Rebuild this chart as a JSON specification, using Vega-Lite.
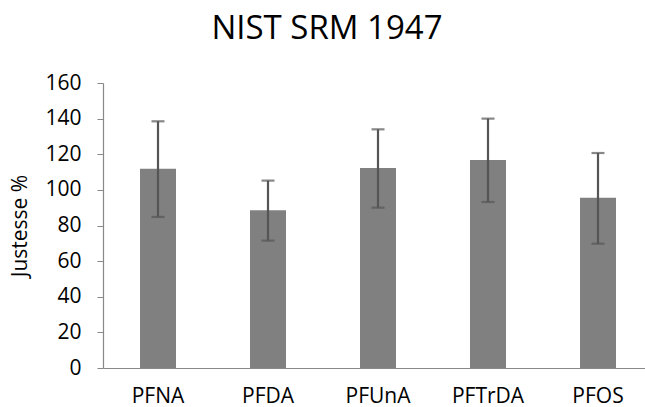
{
  "$schema": "https://vega.github.io/schema/vega-lite/v6.json",
  "autosize": "none",
  "width": 542,
  "height": 285,
  "padding": {"left": 103, "top": 83, "right": 0, "bottom": 39},
  "background": "white",
  "config": {
    "view": {"stroke": null},
    "font": "Open Sans",
    "axisY": {
      "titleFontSize": 21,
      "titleFontWeight": "normal",
      "titleColor": "#000000",
      "titlePadding": 14,
      "labelOverlap": false,
      "labelFontSize": 21,
      "labelColor": "#000000",
      "labelPadding": 16,
      "tickSize": 6,
      "tickColor": "#888888",
      "domainColor": "#888888",
      "domainWidth": 1.2,
      "grid": false
    }
  },
  "title": {
    "text": "NIST SRM 1947",
    "fontSize": 33,
    "fontWeight": "normal",
    "font": "Open Sans",
    "color": "#000000",
    "anchor": "middle",
    "dx": -47,
    "offset": 26
  },
  "data": {
    "values": [
      {"compound": "PFNA", "value": 111.9, "lo": 84.8, "hi": 138.5},
      {"compound": "PFDA", "value": 88.5, "lo": 71.5, "hi": 105.2},
      {"compound": "PFUnA", "value": 112.3, "lo": 90.0, "hi": 134.0},
      {"compound": "PFTrDA", "value": 116.8, "lo": 93.2, "hi": 140.0},
      {"compound": "PFOS", "value": 95.6, "lo": 69.8, "hi": 120.7}
    ]
  },
  "encoding": {
    "x": {
      "field": "compound",
      "type": "nominal",
      "sort": null,
      "scale": {"range": [0, 550], "paddingInner": 0.67, "paddingOuter": 0.335},
      "axis": {
        "title": null,
        "labelAngle": 0,
        "labelFontSize": 21,
        "labelColor": "#000000",
        "labelPadding": 17,
        "labelOverlap": false,
        "ticks": false,
        "domainColor": "#888888",
        "domainWidth": 1.2
      }
    }
  },
  "layer": [
    {
      "mark": {"type": "bar", "color": "#808080", "width": 36},
      "encoding": {
        "y": {
          "field": "value",
          "type": "quantitative",
          "scale": {"domain": [0, 160]},
          "axis": {"title": "Justesse %", "labelFontSize": 21, "titleFontSize": 21, "values": [0, 20, 40, 60, 80, 100, 120, 140, 160]}
        }
      }
    },
    {
      "mark": {"type": "rule", "color": "#555555", "strokeWidth": 2.2},
      "encoding": {
        "y": {"field": "lo", "type": "quantitative", "axis": {"title": "Justesse %", "labelFontSize": 21, "titleFontSize": 21, "values": [0, 20, 40, 60, 80, 100, 120, 140, 160]}},
        "y2": {"field": "hi"}
      }
    },
    {
      "mark": {"type": "tick", "color": "#555555", "thickness": 2.2, "size": 13, "orient": "horizontal"},
      "encoding": {"y": {"field": "lo", "type": "quantitative", "axis": {"title": "Justesse %", "labelFontSize": 21, "titleFontSize": 21, "values": [0, 20, 40, 60, 80, 100, 120, 140, 160]}}}
    },
    {
      "mark": {"type": "tick", "color": "#555555", "thickness": 2.2, "size": 13, "orient": "horizontal"},
      "encoding": {"y": {"field": "hi", "type": "quantitative", "axis": {"title": "Justesse %", "labelFontSize": 21, "titleFontSize": 21, "values": [0, 20, 40, 60, 80, 100, 120, 140, 160]}}}
    }
  ]
}
